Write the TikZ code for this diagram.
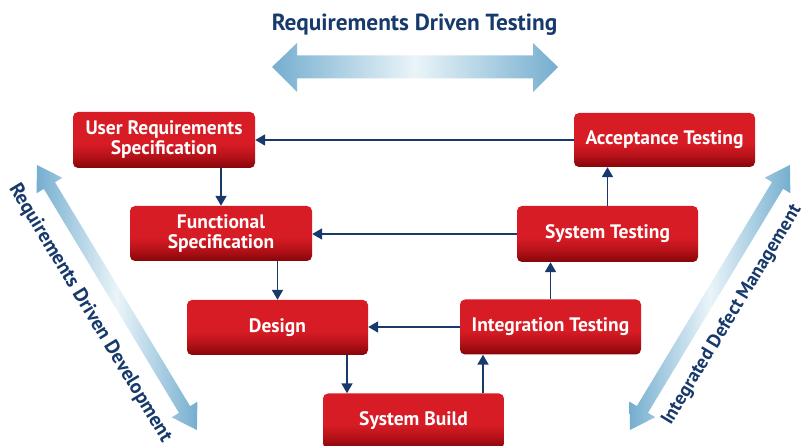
\documentclass[tikz,border=0pt]{standalone}
\usepackage{fontspec}
\setmainfont{PT Sans}
\usetikzlibrary{arrows.meta}
\definecolor{navy}{HTML}{17396B}
\definecolor{boxred}{HTML}{D81C25}
\definecolor{boxdark}{HTML}{850609}
\definecolor{boxmid}{HTML}{B8121A}
\definecolor{arrblue}{HTML}{75AECF}
\definecolor{arrlight}{HTML}{EAF4F9}
\pgfdeclareverticalshading{redbox}{100bp}{color(0bp)=(boxdark); color(25bp)=(boxdark); color(36bp)=(boxmid); color(47bp)=(boxred); color(100bp)=(boxred)}
\tikzset{
  stage/.style={draw=none, rounded corners=5pt, shade, shading=redbox, text=white,
    font=\bfseries\fontsize{19.5}{20}\selectfont, align=center,
    minimum width=181pt, minimum height=55pt, inner sep=0pt},
  conn/.style={draw=navy, line width=1.8pt, -{Triangle[length=10pt,width=11pt]}},
  bigarrow/.style={left color=arrblue, right color=arrblue, middle color=arrlight, draw=none},
  label/.style={text=navy, font=\bfseries\fontsize{20}{24}\selectfont},
}
\begin{document}
\begin{tikzpicture}[x=1pt,y=-1pt]
\useasboundingbox (0,0) rectangle (804,446);
% title and top arrow
\node[text=navy, font=\bfseries\fontsize{23.3}{28}\selectfont] (title) at (414.5,25) {Requirements Driven Testing};
\shade[bigarrow] (272,67) -- (297,43) -- (297,55.5) -- (533,55.5) -- (533,43) -- (558,67)
  -- (533,92) -- (533,78.5) -- (297,78.5) -- (297,92) -- cycle;
% left diagonal arrow
\begin{scope}[shift={(37,165)}, rotate=-58.9]
\shade[bigarrow] (0,0) -- (24,15) -- (24,6.5) -- (285.6,6.5) -- (285.6,15) -- (309.6,0)
  -- (285.6,-15) -- (285.6,-6.5) -- (24,-6.5) -- (24,-15) -- cycle;
\end{scope}
\node[label, rotate=-58.9] (rdd) at (90,313) {Requirements Driven Development};
% right diagonal arrow
\begin{scope}[shift={(630,430)}, rotate=58.9]
\shade[bigarrow] (0,0) -- (24,15) -- (24,6.5) -- (285.6,6.5) -- (285.6,15) -- (309.6,0)
  -- (285.6,-15) -- (285.6,-6.5) -- (24,-6.5) -- (24,-15) -- cycle;
\end{scope}
\node[label, font=\bfseries\fontsize{19}{24}\selectfont, rotate=58.9] (idm) at (732,315) {Integrated Defect Management};
% stages
\node[stage, minimum width=182pt, minimum height=56pt] (urs) at (164,140) {User Requirements\\Specification};
\node[stage, minimum width=182pt] (fs) at (221,233.5) {Functional\\Specification};
\node[stage] (design) at (277.5,327.5) {Design};
\node[stage] (sb) at (413.5,421) {System Build};
\node[stage] (it) at (550.5,327) {Integration Testing};
\node[stage, minimum height=56pt] (st) at (607.5,234) {System Testing};
\node[stage, minimum height=54pt] (acc) at (664.5,140) {Acceptance Testing};
% connectors
\draw[conn] (acc.west) -- (urs.east);
\draw[conn] (urs.south -| fs.north) -- (fs.north);
\draw[conn] (st.west) -- (st.west -| fs.east);
\draw[conn] (fs.south -| design.north) -- (design.north);
\draw[conn] (it.west) -- (it.west -| design.east);
\draw[conn] ([xshift=69.5pt]design.south) -- ([xshift=69.5pt]design.south |- sb.north);
\draw[conn] ([xshift=69.5pt]sb.north) -- ([xshift=69.5pt]sb.north |- it.south);
\draw[conn] (it.north) -- (it.north |- st.south);
\draw[conn] (st.north) -- (st.north |- acc.south);
\end{tikzpicture}
\end{document}
